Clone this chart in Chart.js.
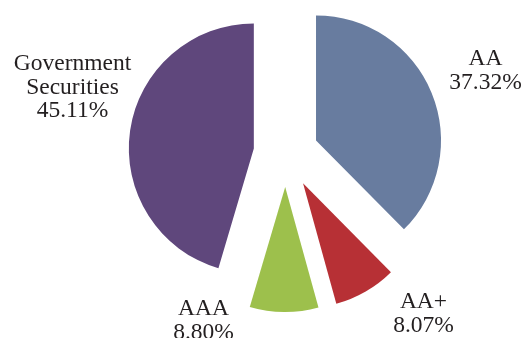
<!DOCTYPE html>
<html>
<head>
<meta charset="utf-8">
<script src="https://cdn.jsdelivr.net/npm/chart.js@4/dist/chart.umd.min.js"></script>
<style>
  html, body { margin: 0; padding: 0; background: #fff; }
  #wrap { width: 526px; height: 338px; position: relative; }
</style>
</head>
<body>
<div id="wrap"><canvas id="pie" width="526" height="338"></canvas></div>
<script>
// categories and shares (%), clockwise from 12 o'clock
const labels = ['AA', 'AA+', 'AAA', 'Government Securities'];
const shares = [37.32, 8.07, 8.80, 45.11];
const pieColors = ['#687c9f', '#b73035', '#9dc04c', '#5f477c'];
// explode amount per slice (chart.js moves a slice by offset/4)
const sliceOffsets = [132, 140, 136, 128];
const pieRadius = 125;

// label text lines and where they sit, relative to the pie centre
const labelLines = [
  ['AA', '37.32%'],
  ['AA+', '8.07%'],
  ['AAA', '8.80%'],
  ['Government', 'Securities', '45.11%']
];
const labelPos = [
  { dx: 200, dy: -88 },
  { dx: 138, dy: 155 },
  { dx: -82, dy: 162 },
  { dx: -213, dy: -83 }
];

// chart.js also grows an offset slice's radius and narrows its angle;
// undo that so every exploded slice keeps the same radius and its true angle
const keepRadius = {
  id: 'keepRadius',
  afterDatasetsUpdate(chart) {
    chart.getDatasetMeta(0).data.forEach((arc, i) => {
      const off = sliceOffsets[i] / 4;
      const fix = 1 - Math.sin(Math.min(Math.PI, arc.circumference));
      const ro = off * fix;
      arc.outerRadius = pieRadius - ro;
      const a = ro / (2 * Math.PI * pieRadius);
      arc.startAngle -= a;
      arc.endAngle += a;
    });
  }
};

// draws the outside labels
const outsideLabels = {
  id: 'outsideLabels',
  afterDatasetsDraw(chart) {
    const ctx = chart.ctx;
    const cx = chart.chartArea.left + chart.chartArea.width / 2;
    const cy = chart.chartArea.top + chart.chartArea.height / 2;
    ctx.save();
    ctx.fillStyle = '#231f20';
    ctx.font = '23.5px "Liberation Serif", "DejaVu Serif", serif';
    ctx.textAlign = 'center';
    ctx.textBaseline = 'alphabetic';
    labelLines.forEach((lines, i) => {
      lines.forEach((t, j) => {
        ctx.fillText(t, cx + labelPos[i].dx, cy + labelPos[i].dy + j * 23.5);
      });
    });
    ctx.restore();
  }
};

let myChart = new Chart(document.getElementById('pie'), {
  type: 'pie',
  plugins: [keepRadius, outsideLabels],
  data: {
    labels: labels,
    datasets: [{
      data: shares,
      backgroundColor: pieColors,
      borderWidth: 0,
      offset: sliceOffsets,
      clip: false
    }]
  },
  options: {
    responsive: false,
    animation: false,
    radius: pieRadius,
    layout: { padding: { left: 45, right: 0, top: 0, bottom: 32 } },
    plugins: {
      legend: { display: false },
      tooltip: { enabled: false }
    }
  }
});
</script>
</body>
</html>
